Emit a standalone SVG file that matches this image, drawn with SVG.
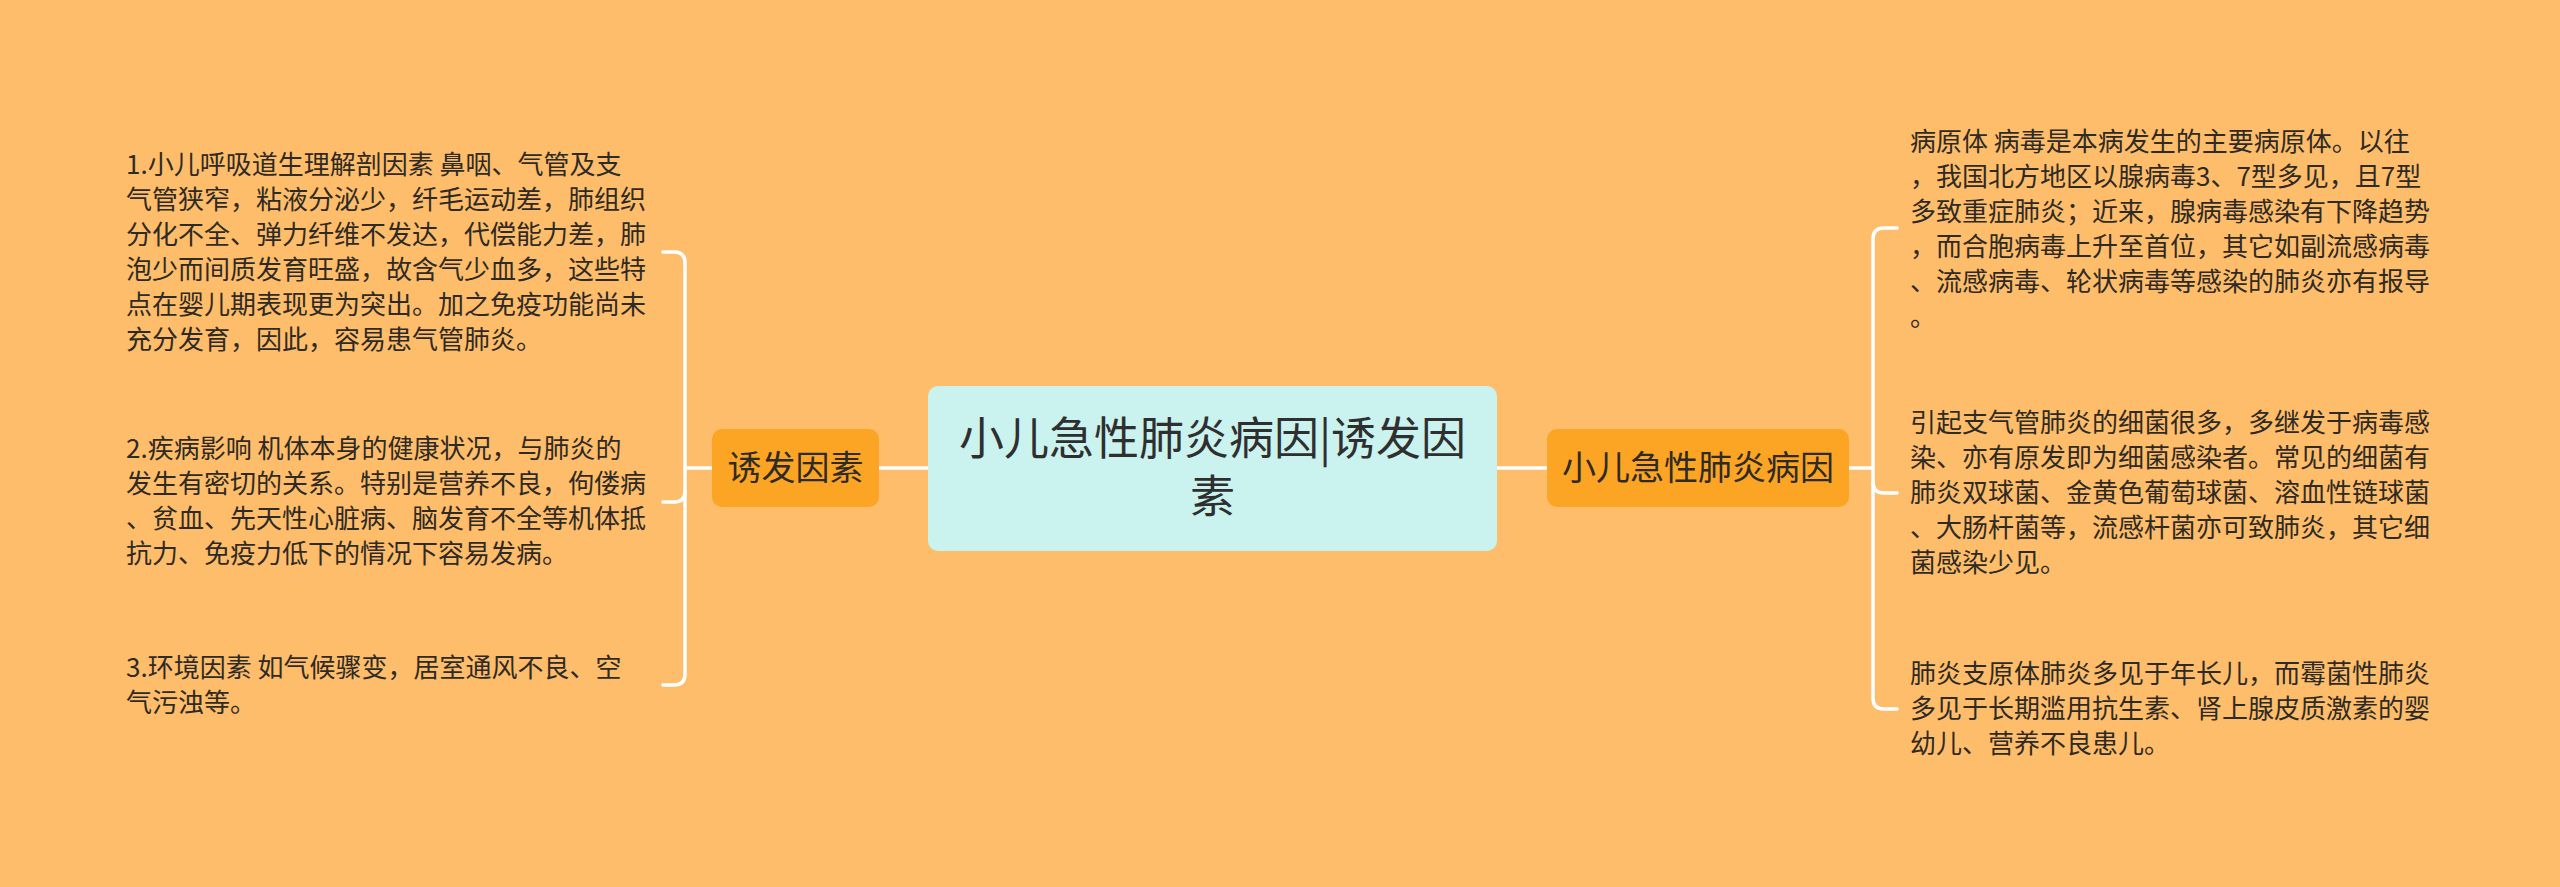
<svg xmlns="http://www.w3.org/2000/svg" width="2560" height="887" viewBox="0 0 2560 887">
<style>
.bg{fill:#FEBD6A}
.conn{fill:none;stroke:#FFFFFF;stroke-width:3.5;stroke-linecap:round;stroke-linejoin:round}
.root{fill:#CAF2EE}
.sub{fill:#FCA424}
.t{font-family:"Noto Sans CJK SC","Noto Sans",sans-serif;fill:#2E2A25}
.rt{font-size:45px;text-anchor:middle;fill:#2F2F2F}
.st{font-size:34px;text-anchor:middle}
.lt{font-size:26px}
</style>
<rect class="bg" x="0" y="0" width="2560" height="887"/>
<g id="connectors">
<path class="conn" d="M879,468 H928"/>
<path class="conn" d="M1497,468 H1547"/>
<path class="conn" d="M712,468 H685"/>
<path class="conn" d="M663,252 H674 Q685,252 685,263 V674 Q685,685 674,685 H663"/>
<path class="conn" d="M685,491 Q685,502 674,502 H663"/>
<path class="conn" d="M1849,468 H1873"/>
<path class="conn" d="M1897,228 H1884 Q1873,228 1873,239 V698 Q1873,709 1884,709 H1897"/>
<path class="conn" d="M1873,482 Q1873,493 1884,493 H1897"/>
</g>
<g id="root">
<rect class="root" x="928" y="386" width="569" height="165" rx="10" ry="10"/>
<text class="t rt"><tspan x="1212.5" y="455">小儿急性肺炎病因|诱发因</tspan><tspan x="1212.5" y="513">素</tspan></text>
</g>
<g id="node-left">
<rect class="sub" x="712" y="429" width="167" height="78" rx="10" ry="10"/>
<text class="t st" x="795.5" y="480">诱发因素</text>
</g>
<g id="node-right">
<rect class="sub" x="1547" y="429" width="302" height="78" rx="10" ry="10"/>
<text class="t st" x="1698" y="480">小儿急性肺炎病因</text>
</g>
<g id="leaf-l1">
<text class="t lt"><tspan x="126" y="174">1.小儿呼吸道生理解剖因素 鼻咽、气管及支</tspan><tspan x="126" y="209">气管狭窄，粘液分泌少，纤毛运动差，肺组织</tspan><tspan x="126" y="244">分化不全、弹力纤维不发达，代偿能力差，肺</tspan><tspan x="126" y="279">泡少而间质发育旺盛，故含气少血多，这些特</tspan><tspan x="126" y="314">点在婴儿期表现更为突出。加之免疫功能尚未</tspan><tspan x="126" y="349">充分发育，因此，容易患气管肺炎。</tspan></text>
</g>
<g id="leaf-l2">
<text class="t lt"><tspan x="126" y="458">2.疾病影响 机体本身的健康状况，与肺炎的</tspan><tspan x="126" y="493">发生有密切的关系。特别是营养不良，佝偻病</tspan><tspan x="126" y="528">、贫血、先天性心脏病、脑发育不全等机体抵</tspan><tspan x="126" y="563">抗力、免疫力低下的情况下容易发病。</tspan></text>
</g>
<g id="leaf-l3">
<text class="t lt"><tspan x="126" y="677">3.环境因素 如气候骤变，居室通风不良、空</tspan><tspan x="126" y="712">气污浊等。</tspan></text>
</g>
<g id="leaf-r1">
<text class="t lt"><tspan x="1910" y="151">病原体 病毒是本病发生的主要病原体。以往</tspan><tspan x="1910" y="186">，我国北方地区以腺病毒3、7型多见，且7型</tspan><tspan x="1910" y="221">多致重症肺炎；近来，腺病毒感染有下降趋势</tspan><tspan x="1910" y="256">，而合胞病毒上升至首位，其它如副流感病毒</tspan><tspan x="1910" y="291">、流感病毒、轮状病毒等感染的肺炎亦有报导</tspan><tspan x="1910" y="326">。</tspan></text>
</g>
<g id="leaf-r2">
<text class="t lt"><tspan x="1910" y="432">引起支气管肺炎的细菌很多，多继发于病毒感</tspan><tspan x="1910" y="467">染、亦有原发即为细菌感染者。常见的细菌有</tspan><tspan x="1910" y="502">肺炎双球菌、金黄色葡萄球菌、溶血性链球菌</tspan><tspan x="1910" y="537">、大肠杆菌等，流感杆菌亦可致肺炎，其它细</tspan><tspan x="1910" y="572">菌感染少见。</tspan></text>
</g>
<g id="leaf-r3">
<text class="t lt"><tspan x="1910" y="683">肺炎支原体肺炎多见于年长儿，而霉菌性肺炎</tspan><tspan x="1910" y="718">多见于长期滥用抗生素、肾上腺皮质激素的婴</tspan><tspan x="1910" y="753">幼儿、营养不良患儿。</tspan></text>
</g>
</svg>
